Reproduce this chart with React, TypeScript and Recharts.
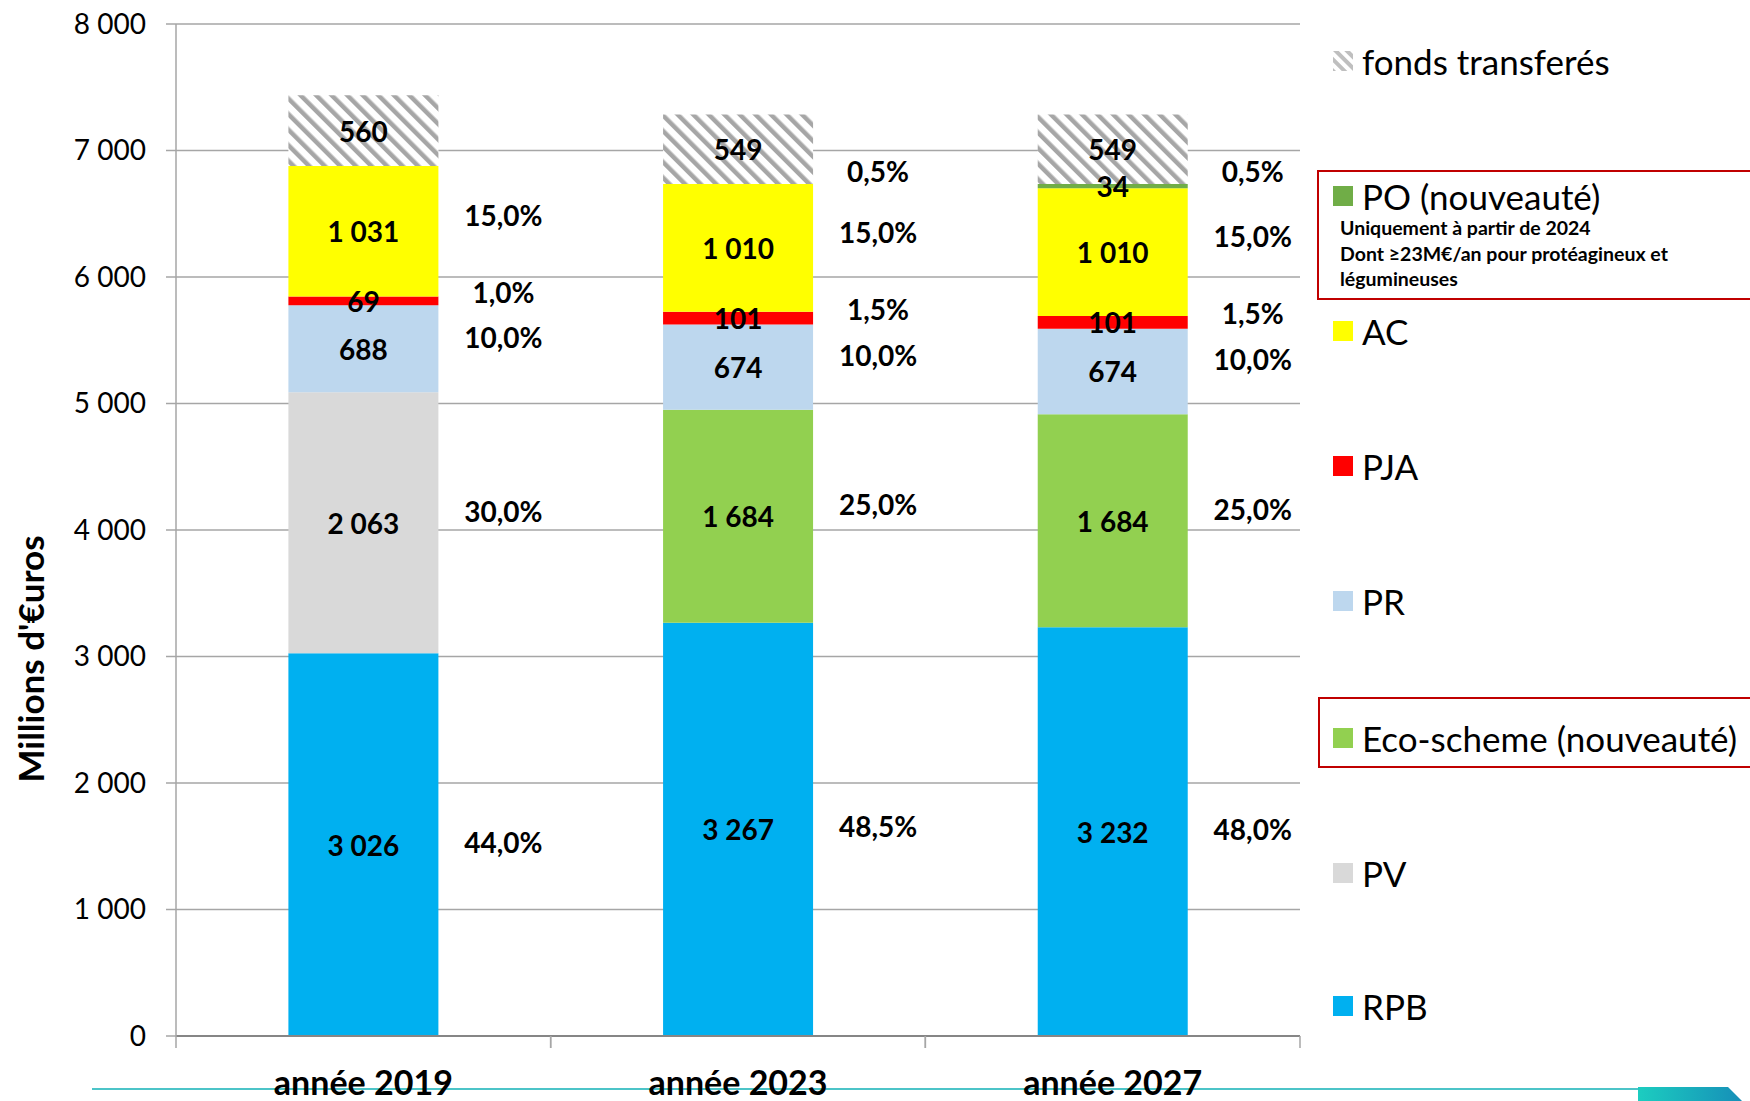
import { BarChart, Bar, XAxis, YAxis, CartesianGrid, LabelList, Label } from 'recharts';

// stacked budget split per year, bottom to top
const years = ['année 2019', 'année 2023', 'année 2027'];
const rpb = [3026, 3267, 3232];
const pv = [2063, 0, 0];
const eco = [0, 1684, 1684];
const pr = [688, 674, 674];
const pja = [69, 101, 101];
const ac = [1031, 1010, 1010];
const po = [0, 0, 34];
const fonds = [560, 549, 549];

const pctRpb = ['44,0%', '48,5%', '48,0%'];
const pctPv = ['30,0%', null, null];
const pctEco = [null, '25,0%', '25,0%'];
const pctPr = ['10,0%', '10,0%', '10,0%'];
const pctPja = ['1,0%', '1,5%', '1,5%'];
const pctAc = ['15,0%', '15,0%', '15,0%'];
const pctPo = [null, '0,5%', '0,5%'];

const yTicks = [0, 1000, 2000, 3000, 4000, 5000, 6000, 7000, 8000];

const none = [null, null, null];
const series = [
  { key: 'rpb', name: 'RPB', color: '#00b0f0', values: rpb, pct: pctRpb },
  { key: 'pv', name: 'PV', color: '#d9d9d9', values: pv, pct: pctPv },
  { key: 'eco', name: 'Eco-scheme (nouveauté)', color: '#92d050', values: eco, pct: pctEco },
  { key: 'pr', name: 'PR', color: '#bdd7ee', values: pr, pct: pctPr },
  { key: 'pja', name: 'PJA', color: '#ff0000', values: pja, pct: pctPja },
  { key: 'ac', name: 'AC', color: '#ffff00', values: ac, pct: pctAc },
  { key: 'po', name: 'PO (nouveauté)', color: '#70ad47', values: po, pct: none },
  // PO share is written at the foot of the transferred-funds block (PO can be 0)
  { key: 'fonds', name: 'fonds transferés', color: 'url(#hatch)', values: fonds, pct: none, basePct: pctPo },
];

// vertical nudge of the % text next to each block
const pctDy: Record<string, number> = { rpb: -3, pja: -9, ac: -16 };

const data = years.map((year, i) => {
  const row: Record<string, string | number> = { year };
  series.forEach((s) => { row[s.key] = s.values[i]; });
  return row;
});

const fmt = (v: number) => String(v).replace(/\B(?=(\d{3})+(?!\d))/g, ' ');

const W = 1750, H = 1101;
const M = { top: 24, right: 450, bottom: 0, left: 0 };
const X_AXIS_H = 65;
const Y_AXIS_W = 176;
const PLOT_L = M.left + Y_AXIS_W;
const band = (W - M.right - PLOT_L) / years.length;
const halfBand = band / 2;

const labelStyle = { fontSize: 28, fontWeight: 700, fill: '#000' };

const makeLabel = (s: any) => (props: any) => {
  const { x, y, width, height } = props;
  const cx = Number(x) + Number(width) / 2;
  const cy = Number(y) + Number(height) / 2;
  const cat = Math.max(0, Math.min(years.length - 1, Math.floor((cx - PLOT_L) / band)));
  const v = s.values[cat];
  const p = s.pct[cat];
  const bp = s.basePct ? s.basePct[cat] : null;
  const dy = pctDy[s.key] ?? -12;
  return (
    <g>
      {v > 0 && (
        <text x={cx} y={cy} textAnchor="middle" dominantBaseline="central" style={labelStyle}>{fmt(v)}</text>
      )}
      {p && (
        <text x={cx + 140} y={cy + dy} textAnchor="middle" dominantBaseline="central" style={labelStyle}>{p}</text>
      )}
      {bp && (
        <text x={cx + 140} y={Number(y) + Number(height) - 13} textAnchor="middle" dominantBaseline="central" style={labelStyle}>{bp}</text>
      )}
    </g>
  );
};

function YearTick(props: any) {
  const { x, y, payload } = props;
  return (
    <g>
      <line x1={x - halfBand} x2={x - halfBand} y1={y} y2={y + 12} stroke="#a6a6a6" strokeWidth={1.5} />
      <line x1={x + halfBand} x2={x + halfBand} y1={y} y2={y + 12} stroke="#a6a6a6" strokeWidth={1.5} />
      <text x={x} y={y + 59} textAnchor="middle" style={{ fontSize: 34, fontWeight: 700, fill: '#000' }}>
        {payload.value}
      </text>
    </g>
  );
}

function Swatch({ color, hatch }: { color: string; hatch?: boolean }) {
  if (hatch) {
    return (
      <svg width={20} height={20} style={{ display: 'block' }}>
        <defs>
          <pattern id="hatchSmall" width="8" height="8" patternUnits="userSpaceOnUse" patternTransform="rotate(-45)">
            <rect width="8" height="8" fill="#fff" />
            <rect width="4" height="8" fill="#bfbfbf" />
          </pattern>
        </defs>
        <rect width={20} height={20} fill="url(#hatchSmall)" />
      </svg>
    );
  }
  return <div style={{ width: 20, height: 20, background: color }} />;
}

const legendTops = [61, 196, 331, 466, 601, 738, 873, 1006];

export default function App() {
  const legendItems = [...series].reverse();
  return (
    <div style={{ position: 'absolute', left: 0, top: 0, width: W, height: H, background: '#fff', fontFamily: 'Lato, sans-serif', overflow: 'hidden' }}>
      {/* slide decoration at the bottom */}
      <div style={{ position: 'absolute', left: 92, top: 1088, width: 1560, height: 2, background: '#4cc4c8' }} />
      <svg style={{ position: 'absolute', left: 1638, top: 1087 }} width={112} height={14}>
        <defs>
          <linearGradient id="deco" x1="0" x2="1" y1="0" y2="0">
            <stop offset="0" stopColor="#1ccdc0" />
            <stop offset="1" stopColor="#168fb8" />
          </linearGradient>
        </defs>
        <polygon points="0,0 90,0 104,14 0,14" fill="url(#deco)" />
      </svg>

      <div style={{ position: 'absolute', left: 0, top: 0 }}>
        <BarChart width={W} height={H} data={data} margin={M} barCategoryGap="30%">
          <defs>
            <pattern id="hatch" width="11" height="11" patternUnits="userSpaceOnUse" patternTransform="rotate(-45)">
              <rect width="11" height="11" fill="#fff" />
              <rect width="4.5" height="11" fill="#a6a6a6" />
            </pattern>
          </defs>
          <CartesianGrid vertical={false} stroke="#a6a6a6" strokeWidth={1.5} />
          <XAxis dataKey="year" tickLine={false} axisLine={{ stroke: '#868686', strokeWidth: 2 }}
            tick={<YearTick />} tickSize={0} tickMargin={0} height={X_AXIS_H} interval={0} />
          <YAxis width={Y_AXIS_W} domain={[0, 8000]} ticks={yTicks} tickFormatter={fmt}
            axisLine={{ stroke: '#a6a6a6', strokeWidth: 1.5 }} tickLine={{ stroke: '#a6a6a6', strokeWidth: 1.5 }}
            tickSize={10} tickMargin={20} tick={{ fontSize: 28, fill: '#000' }}>
            <Label content={() => (
              <text x={30} y={659} transform="rotate(-90, 30, 659)" textAnchor="middle" dominantBaseline="central"
                style={{ fontSize: 35, fontWeight: 700, fill: '#000' }}>Millions d'€uros</text>
            )} />
          </YAxis>
          {series.map((s) => (
            <Bar key={s.key} dataKey={s.key} name={s.name} stackId="a" fill={s.color} isAnimationActive={false}>
              <LabelList dataKey={s.key} content={makeLabel(s)} />
            </Bar>
          ))}
        </BarChart>
      </div>

      {/* legend */}
      <div style={{ position: 'absolute', left: 1317, top: 170, width: 460, height: 126, border: '2.5px solid #c00000' }} />
      <div style={{ position: 'absolute', left: 1318, top: 697, width: 460, height: 67, border: '2.5px solid #c00000' }} />
      {legendItems.map((s, i) => (
        <div key={s.key} style={{ position: 'absolute', left: 1333, top: legendTops[i] - 15, height: 30, display: 'flex', alignItems: 'center', gap: 9 }}>
          <Swatch color={s.color} hatch={s.key === 'fonds'} />
          <span style={{ fontSize: 35, lineHeight: '30px', color: '#000', whiteSpace: 'nowrap' }}>{s.name}</span>
        </div>
      ))}
      <div style={{ position: 'absolute', left: 1340, top: 215, fontSize: 19.5, fontWeight: 700, lineHeight: '25.5px', color: '#000' }}>
        <div>Uniquement à partir de 2024</div>
        <div>Dont ≥23M€/an pour protéagineux et</div>
        <div>légumineuses</div>
      </div>
    </div>
  );
}
